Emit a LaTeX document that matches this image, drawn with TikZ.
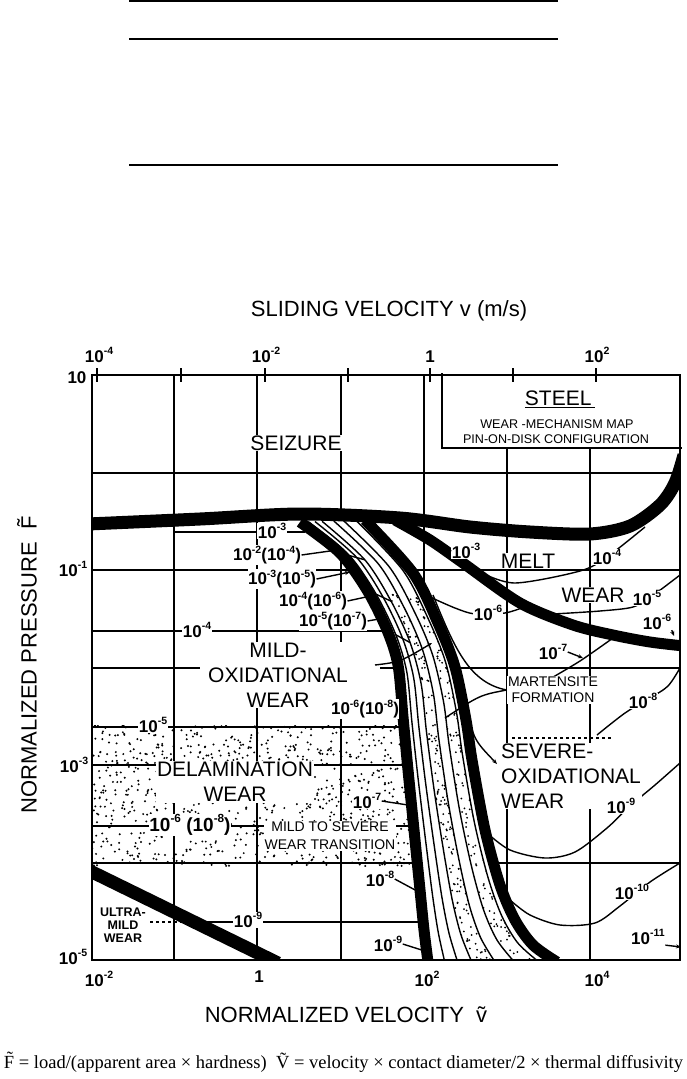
\documentclass[tikz,border=0pt]{standalone}
\usepackage{fontspec}
\setmainfont{Liberation Sans}
\newfontfamily\capfont{Liberation Serif}
\usetikzlibrary{calc,arrows.meta}

\newcommand{\pw}[1]{10\raisebox{0.45em}{\scalebox{0.62}{#1}}}
\newcommand{\bandline}[1]{plot[smooth] coordinates {($(L0)!#1!(R0)$) ($(L1)!#1!(R1)$) ($(L2)!#1!(R2)$) ($(L3)!#1!(R3)$) ($(L4)!#1!(R4)$) ($(L5)!#1!(R5)$) ($(L6)!#1!(R6)$) ($(L7)!#1!(R7)$) ($(L8)!#1!(R8)$) ($(L9)!#1!(R9)$) ($(L10)!#1!(R10)$)}}
\newcommand{\bandjoin}[1]{-- plot[smooth] coordinates {($(L10)!#1!(R10)$) ($(L9)!#1!(R9)$) ($(L8)!#1!(R8)$) ($(L7)!#1!(R7)$) ($(L6)!#1!(R6)$) ($(L5)!#1!(R5)$) ($(L4)!#1!(R4)$) ($(L3)!#1!(R3)$) ($(L2)!#1!(R2)$) ($(L1)!#1!(R1)$) ($(L0)!#1!(R0)$)}}

\tikzset{
  rule/.style={line width=1.2pt},
  gridline/.style={line width=1.7pt},
  mapframe/.style={line width=2.6pt},
  bound/.style={line width=11pt},
  contour/.style={line width=1.4pt},
  pointer/.style={contour, -{Stealth[length=5pt,width=4pt]}},
  region/.style={fill=white, inner sep=1pt, font=\fontsize{21}{25}\selectfont, align=center},
  smallregion/.style={fill=white, inner sep=1pt, font=\fontsize{14}{16}\selectfont, align=center},
  rate/.style={fill=white, inner sep=0.4pt, font=\fontsize{17}{17}\selectfont\bfseries},
  ticklabel/.style={inner sep=0pt, font=\fontsize{17}{17}\selectfont\bfseries},
  axislabel/.style={inner sep=0pt, font=\fontsize{22}{22}\selectfont},
}

\begin{document}
\begin{tikzpicture}[x=1pt,y=-1pt]
\useasboundingbox (0,0) rectangle (687,1079);

% Table rules
\draw[rule] (129,1) -- (558,1);
\draw[rule] (129,39) -- (558,39);
\draw[rule] (129,165) -- (558,165);

% Edges of the transition band
\foreach \i/\lx/\ly/\rx/\ry in {0/300/522/365/520, 1/340/553/413/573, 2/367/590/438/623,
    3/387/630/455/667, 4/398/665/466/720, 5/403/717/472/760, 6/408/770/485/830,
    7/414/830/500/885, 8/420/890/515/920, 9/424/930/533/945, 10/428/962/557/962}{
  \coordinate (L\i) at (\lx,\ly);
  \coordinate (R\i) at (\rx,\ry);
}

\begin{scope}
\clip (92,375) rectangle (680,960);

% Grid
\foreach \gx in {174,257,341,424} \draw[gridline] (\gx,375) -- (\gx,960);
\foreach \gx in {507,590} \draw[gridline] (\gx,448) -- (\gx,960);
\foreach \gy in {473,570,863} \draw[gridline] (92,\gy) -- (680,\gy);
\draw[gridline] (92,668) -- (200,668) (380,668) -- (680,668);
\draw[gridline] (92,765) -- (430,765);

% Wear-rate lines of the mild regimes
\draw[gridline] (174,532) -- (305,532);
\draw[gridline] (92,631) -- (390,631);
\draw[gridline] (92,727) -- (405,727);
\draw[gridline] (92,826) -- (412,826);
\draw[gridline, dashed] (150,922) -- (190,922);
\draw[gridline] (190,922) -- (424,922);
\draw[contour, dashed] (512,738) -- (612,738);

% Delamination stipple
\pgfmathsetseed{11}
\begin{scope}
\clip (92,725) rectangle (412,866);
\foreach \k in {1,...,950}{
  \pgfmathsetmacro{\dx}{92+320*rnd}
  \pgfmathsetmacro{\dy}{725+141*rnd}
  \fill (\dx,\dy) circle (1.1pt);
}
\end{scope}

% Transition band
\fill[white] plot[smooth] coordinates {(L0) (L1) (L2) (L3) (L4) (L5) (L6) (L7) (L8) (L9) (L10)}
  -- plot[smooth] coordinates {(R10) (R9) (R8) (R7) (R6) (R5) (R4) (R3) (R2) (R1) (R0)} -- cycle;
\begin{scope}
\clip \bandline{0.34} \bandjoin{0.52} -- cycle \bandline{0.67} \bandjoin{0.86} -- cycle;
\foreach \k in {1,...,1700}{
  \pgfmathsetmacro{\dx}{390+165*rnd}
  \pgfmathsetmacro{\dy}{585+377*rnd}
  \fill (\dx,\dy) circle (1pt);
}
\end{scope}
\foreach \lev in {0.13,0.23,0.34,0.52,0.67,0.86} \draw[contour] \bandline{\lev};
\foreach \i in {1,2,3} \draw[contour] ($(L\i)!0.13!(R\i)$) -- ($(L\i)!0.34!(R\i)$);

% Wear-rate lines of the severe regimes
\draw[contour] plot[smooth] coordinates {(480,572) (515,583) (580,571) (607,557) (645,527)};
\draw[contour] plot[smooth] coordinates {(553,614) (600,611) (633,607) (652,596) (680,575)};
\draw[contour] plot[smooth] coordinates {(430,597) (455,608) (475,614) (505,613) (527,606)};
\draw[contour] plot[smooth] coordinates {(548,680) (580,661) (613,638)};
\draw[contour] plot[smooth] coordinates {(597,735) (625,713) (650,698) (668,686) (680,668)};
\draw[contour] plot[smooth] coordinates {(487,833) (510,850) (545,858) (575,852) (607,828) (630,806) (655,785) (680,763)};
\draw[contour] plot[smooth] coordinates {(510,900) (530,915) (560,925) (595,923) (620,906) (650,882) (680,863)};

% Regime boundaries
\draw[bound, line width=13pt] plot[smooth] coordinates {(88,524) (200,519) (300,514) (400,518) (470,527)
  (530,532) (590,534) (630,526) (660,505) (675,483) (684,455)};
\draw[bound] plot[smooth] coordinates {(L0) (L1) (L2) (L3) (L4) (L5) (L6) (L7) (L8) (L9) (L10)};
\draw[bound] plot[smooth] coordinates {(R0) (R1) (R2) (R3) (R4) (R5) (R6) (R7) (R8) (R9) (R10)};
\draw[bound] plot[smooth] coordinates {(395,520) (430,540) (463,563) (520,603) (573,625) (613,635) (650,642) (684,646)};
\draw[bound, line width=13pt] (86,869) -- (278,963);
\end{scope}

% Legend box
\draw[mapframe, fill=white] (442,373) |- (682,448);

% Frame and ticks
\draw[mapframe] (92,375) rectangle (680,960);
\foreach \gx in {97,181,265,348,430,513,596} \draw[gridline] (\gx,368) -- (\gx,382);

% Define nodes
\node[axislabel] (vtitle) at (389,311) {SLIDING VELOCITY v (m/s)};
\node[axislabel, rotate=90] (ftitle) at (27,665) {NORMALIZED PRESSURE\ \ \~F};
\node[axislabel] (ntitle) at (346,1015) {NORMALIZED VELOCITY\ \ \~v};
\node[inner sep=0pt, font=\fontsize{18.5}{18.5}\capfont] (legend) at (343.5,1062)
  {\~F = load/(apparent area × hardness)\ \ \~V = velocity × contact diameter/2 × thermal diffusivity};

\node[ticklabel] (t1) at (99,355) {\pw{-4}};
\node[ticklabel] (t2) at (266,355) {\pw{-2}};
\node[ticklabel] (t3) at (430,357) {1};
\node[ticklabel] (t4) at (597,355) {\pw{2}};
\node[ticklabel] (s1) at (77,378) {10};
\node[ticklabel] (s2) at (73,569) {\pw{-1}};
\node[ticklabel] (s3) at (74,765) {\pw{-3}};
\node[ticklabel] (s4) at (73,957) {\pw{-5}};
\node[ticklabel] (b1) at (99,979) {\pw{-2}};
\node[ticklabel] (b2) at (259,977) {1};
\node[ticklabel] (b3) at (427,979) {\pw{2}};
\node[ticklabel] (b4) at (597,979) {\pw{4}};

\node[font=\fontsize{21}{21}\selectfont] (steel) at (560,399) {\underline{STEEL\,}};
\node[font=\fontsize{12.6}{12.6}\selectfont] (mapname) at (557,424) {WEAR -MECHANISM MAP};
\node[font=\fontsize{12.6}{12.6}\selectfont] (config) at (556,439) {PIN-ON-DISK CONFIGURATION};

\node[region] (seizure) at (296,443) {SEIZURE};
\node[region] (mildox) at (278,675) {MILD-\\OXIDATIONAL\\WEAR};
\node[region] (delam) at (235,782) {DELAMINATION\\WEAR};
\node[region] (melt) at (528,561) {MELT};
\node[region] (meltwear) at (593,595) {WEAR};
\node[region, align=left, anchor=west] (severe) at (500,776) {SEVERE-\\OXIDATIONAL\\WEAR};
\node[smallregion] (martensite) at (553,690) {MARTENSITE\\FORMATION};
\node[smallregion, font=\fontsize{14}{18}\selectfont] (transition) at (330,836) {MILD TO SEVERE\\WEAR TRANSITION};
\node[fill=white, inner sep=1pt, align=center, font=\fontsize{12.5}{13}\selectfont\bfseries] (ultramild) at (123,925) {ULTRA-\\MILD\\WEAR};

\node[rate] (r3) at (272,531) {\pw{-3}};
\node[rate] (r2) at (267,555) {\pw{-2}(\pw{-4})};
\node[rate] (r3b) at (282,579) {\pw{-3}(\pw{-5})};
\node[rate] (r4) at (313,601) {\pw{-4}(\pw{-6})};
\node[rate] (r5) at (333,621) {\pw{-5}(\pw{-7})};
\node[rate] (r4b) at (197,630) {\pw{-4}};
\node[rate] (r5b) at (153,725) {\pw{-5}};
\node[rate] (r6) at (365,709) {\pw{-6}(\pw{-8})};
\node[rate, font=\fontsize{19}{19}\selectfont\bfseries] (r6b) at (190,825) {\pw{-6} (\pw{-8})};
\node[rate] (r7) at (367,801) {\pw{-7}};
\node[rate] (r8) at (380,879) {\pw{-8}};
\node[rate] (r9) at (388,944) {\pw{-9}};
\node[rate] (r9b) at (248,920) {\pw{-9}};
\node[rate] (m3) at (466,551) {\pw{-3}};
\node[rate] (m4) at (607,557) {\pw{-4}};
\node[rate] (m5) at (647,598) {\pw{-5}};
\node[rate] (m6) at (657,622) {\pw{-6}};
\node[rate] (m6b) at (488,613) {\pw{-6}};
\node[rate] (m7) at (553,652) {\pw{-7}};
\node[rate] (m8) at (643,701) {\pw{-8}};
\node[rate] (m9) at (621,806) {\pw{-9}};
\node[rate] (m10) at (632,892) {\pw{-10}};
\node[rate] (m11) at (648,937) {\pw{-11}};

% Leader ends
\coordinate (p2) at (337,550);
\coordinate (p3) at (350,572);
\coordinate (p4) at (366,597);
\coordinate (p5) at (379,619);
\coordinate (p6) at (403,723);
\coordinate (p7) at (408,805);
\coordinate (p8) at (417,891);
\coordinate (p9) at (428,952);
\coordinate (q3) at (413,534);
\coordinate (q6) at (674,636);
\coordinate (q7) at (583,658);
\coordinate (q11) at (681,947);
\coordinate (ox1) at (375,665);
\coordinate (ox2) at (432,643);
\coordinate (mt1) at (433,595);
\coordinate (mt2) at (445,718);
\coordinate (sv1) at (466,706);
\coordinate (sv2) at (497,764);

% Connect the nodes
\draw[contour] (r2.east) -- (p2);
\draw[pointer] (r3b.east) -- (p3);
\draw[contour] (r4.east) -- (p4);
\draw[contour] (r5.east) -- (p5);
\draw[contour] (r6.south east) -- (p6);
\draw[contour] (r7.east) -- (p7);
\draw[contour] (r8.east) -- (p8);
\draw[contour] (r9.east) -- (p9);
\draw[contour] (m3.west) -- (q3);
\draw[pointer] (m6.south east) -- (q6);
\draw[pointer] (m7.east) -- (q7);
\draw[pointer] (m11.south east) -- (q11);
\draw[pointer] (ox1) .. controls (400,662) .. (ox2);
\draw[contour] (mt1) .. controls (455,650) and (470,683) .. (martensite.west);
\draw[contour] (martensite.west) .. controls (480,695) .. (mt2);
\draw[pointer] (sv1) .. controls (474,740) .. (sv2);

\end{tikzpicture}
\end{document}
